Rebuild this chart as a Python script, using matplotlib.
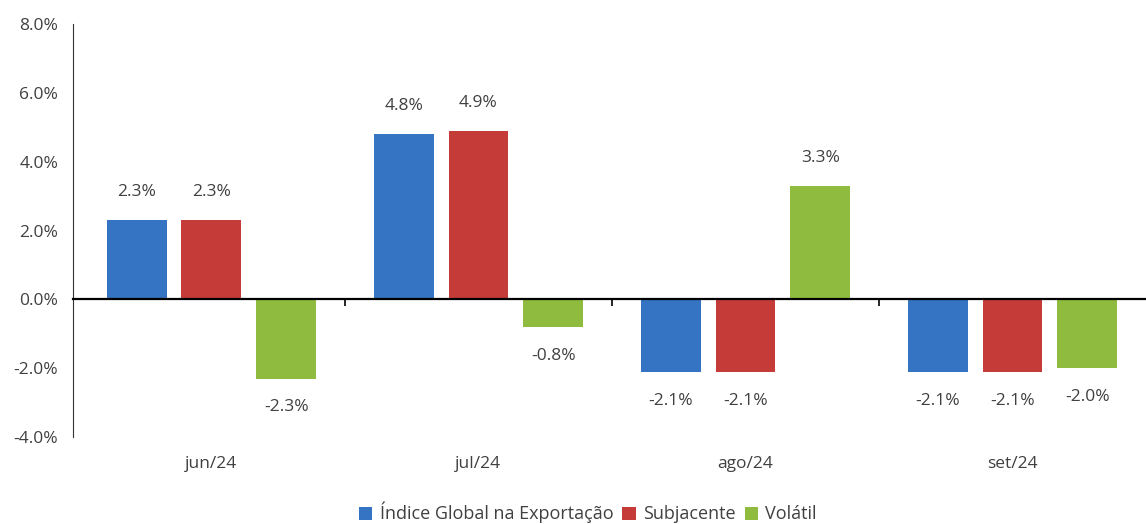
import numpy as np
from matplotlib import pyplot as plt
from matplotlib import transforms

plt.rcParams['font.family'] = ['Open Sans', 'DejaVu Sans']

months = ['jun/24', 'jul/24', 'ago/24', 'set/24']
series = ['Índice Global na Exportação', 'Subjacente', 'Volátil']
global_idx = [2.3, 4.8, -2.1, -2.1]
subjacente = [2.3, 4.9, -2.1, -2.1]
volatil = [-2.3, -0.8, 3.3, -2.0]
colors = ['#3574C2', '#C53B38', '#8FBB3E']
yticks = [-4, -2, 0, 2, 4, 6, 8]

text_color = '#404040'
fs = 12.5

fig = plt.figure(figsize=(11.46, 5.24), dpi=100)
ax = fig.add_axes([0.064, 0.166, 0.936, 0.788])

x = np.arange(len(months))
width = 0.224
step = 0.28
for i, (vals, col, name) in enumerate(zip([global_idx, subjacente, volatil], colors, series)):
    pos = x + (i - 1) * step
    ax.bar(pos, vals, width, color=col, label=name, zorder=2)
    for p, v in zip(pos, vals):
        off = 0.82 if v >= 0 else -0.84
        ax.text(p, v + off, f'{v:.1f}%', ha='center', va='center',
                fontsize=fs, color=text_color)

ax.set_xlim(-0.517, len(months) - 0.5)
ax.set_ylim(-4, 8)
ax.set_yticks(yticks)
ax.set_yticklabels([f'{t:.1f}%' for t in yticks], fontsize=fs, color=text_color)
ax.tick_params(axis='y', length=0, pad=11)

ax.spines['top'].set_visible(False)
ax.spines['right'].set_visible(False)
ax.spines['bottom'].set_position(('data', 0))
ax.spines['bottom'].set_linewidth(1.6)
ax.spines['bottom'].set_zorder(3)
ax.spines['left'].set_color('#333333')

ax.set_xticks(x[:-1] + 0.5)
ax.set_xticklabels([])
ax.tick_params(axis='x', length=5, width=1.2, direction='out')

trans = transforms.blended_transform_factory(ax.transData, ax.transAxes)
for xi, m in zip(x, months):
    ax.text(xi, -0.066, m, transform=trans, ha='center', va='center',
            fontsize=fs, color=text_color)

fig.legend(loc='lower center', bbox_to_anchor=(0.513, -0.03), ncol=3, frameon=False,
           fontsize=13, handlelength=0.75, handleheight=0.75, handletextpad=0.4,
           columnspacing=0.5, labelcolor=text_color)

fig.savefig('out.png', dpi=100)
